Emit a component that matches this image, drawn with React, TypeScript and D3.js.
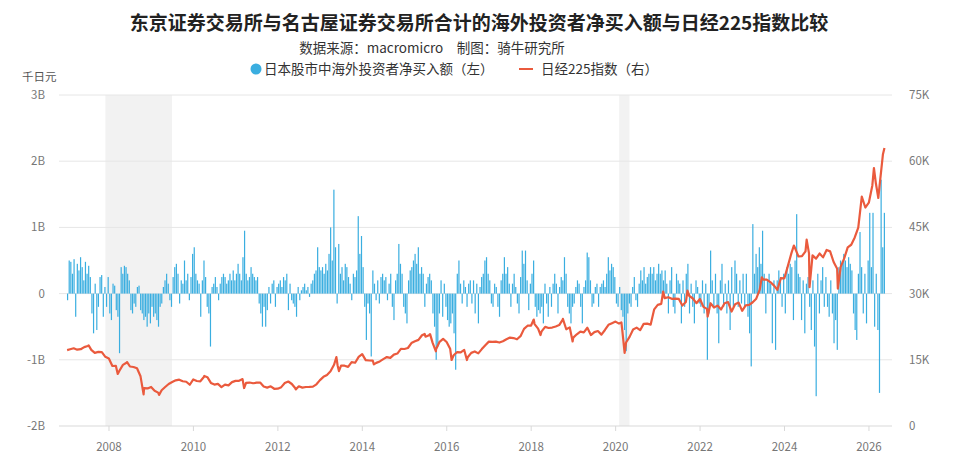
import * as d3 from "d3";
import { useEffect, useRef } from "react";

// weekly-ish foreign net buying, in B (thousand yen), two readings per month
const netBuyStartYear = 2007;
const net2007 = [-0.1, 0.5, 0.48, 0.3, 0.52, -0.35, 0.45, 0.35, 0.55, 0.4, 0.2, 0.48, 0.3, 0.42, 0.25, -0.3, -0.6, 0.15, -0.55, -0.2, 0.25, 0.28, -0.35, 0.1, -0.2, 0.25];
const net2008 = [-0.3, -0.4, 0.15, 0.12, -0.25, -0.35, -0.9, 0.4, 0.3, 0.42, 0.4, 0.3, 0.2, -0.25, -0.3, -0.15, -0.2, 0.1, 0.12, -0.25, -0.3, -0.4, -0.35, -0.5, -0.3, -0.45];
const net2009 = [-0.2, -0.35, -0.3, -0.4, -0.5, -0.2, -0.15, 0.1, 0.2, 0.3, 0.15, -0.1, -0.2, 0.25, 0.4, 0.45, 0.3, -0.15, 0.2, 0.15, 0.5, 0.2, 0.3, -0.1, 0.25, 0.6];
const net2010 = [0.7, 0.3, 0.2, 0.15, -0.35, 0.2, 0.5, 0.25, -0.2, -0.3, -0.8, 0.1, 0.15, 0.25, 0.1, -0.1, 0.15, 0.25, 0.3, 0.25, 0.15, 0.2, 0.3, 0.2, 0.35, 0.2];
const net2011 = [0.3, 0.45, 0.3, 0.2, 0.55, 0.95, 0.3, 0.2, 0.25, 0.4, 0.3, 0.25, 0.2, 0.25, -0.15, -0.3, -0.5, -0.2, -0.5, -0.25, 0.1, -0.15, 0.15, 0.2, -0.2, 0.1];
const net2012 = [0.15, 0.2, 0.1, 0.25, 0.2, 0.3, -0.25, 0.15, -0.1, -0.15, -0.2, -0.35, 0.1, -0.1, 0.05, 0.1, 0.15, 0.05, 0.1, -0.05, 0.15, 0.2, 0.3, 0.35, 0.7, 0.4];
const net2013 = [0.35, 0.4, 0.3, 0.45, 0.35, 0.6, 1.0, 0.5, 1.57, 0.7, -0.15, 0.75, 0.3, 0.4, 0.2, 0.45, 0.4, 0.25, 0.15, -0.1, 0.3, 0.25, 0.35, 1.17, 0.6, 0.87];
const net2014 = [0.4, -0.2, -0.7, -0.15, -0.3, -0.95, 0.35, 0.15, -0.1, 0.2, -0.15, 0.25, 0.3, 0.2, 0.25, -0.1, 0.15, 0.3, -0.2, -0.4, 0.2, 0.3, 0.75, 0.45, 0.3, -0.2];
const net2015 = [-0.3, -0.45, 0.2, 0.35, 0.4, 0.5, 0.6, 0.45, 0.7, 0.3, 0.4, 0.3, -0.2, 0.15, 0.25, 0.3, 0.2, -0.3, -0.5, -1.0, -0.8, -0.3, 0.2, -0.35, 0.15, -0.2];
const net2016 = [-0.4, -0.5, -0.45, -0.3, -0.6, -1.15, 0.3, 0.5, 0.15, -0.15, 0.2, 0.1, -0.2, 0.15, 0.2, -0.15, 0.2, -0.3, 0.15, -0.45, 0.1, 0.25, 0.3, 0.5, 0.55, 0.3];
const net2017 = [0.2, -0.15, -0.2, 0.15, 0.1, -0.2, -0.35, 0.2, 0.3, 0.55, 0.3, 0.4, 0.15, -0.2, 0.15, 0.3, 0.1, -0.15, -0.3, 0.25, 0.65, 0.45, 0.65, 0.2, -0.25, 0.15];
const net2018 = [0.3, 0.5, -0.2, -0.35, -0.25, -0.3, -0.2, -0.45, 0.15, -0.15, -0.35, 0.1, -0.2, 0.15, 0.3, 0.15, -0.3, 0.1, 0.25, 0.2, 0.55, 0.3, -0.2, -0.3, -0.45, -0.2];
const net2019 = [-0.15, 0.1, 0.2, 0.15, -0.2, -0.45, 0.1, 0.2, 0.62, 0.55, 0.2, -0.2, -0.15, 0.1, 0.15, -0.2, 0.1, 0.15, 0.2, 0.1, 0.3, 0.55, 0.35, 0.45, 0.4, 0.25];
const net2020 = [-0.15, -0.2, 0.1, -0.25, -0.35, -0.55, -0.87, -0.3, -0.15, -0.2, 0.1, 0.25, -0.1, -0.2, 0.15, 0.35, 0.2, 0.4, 0.15, 0.25, 0.3, 0.4, 0.3, 0.4, 0.2, 0.3];
const net2021 = [0.45, 0.3, 0.35, 0.2, 0.35, 0.15, -0.3, 0.2, 0.4, -0.2, -0.3, 0.3, 0.2, 0.15, -0.45, 0.2, -0.2, 0.3, 0.45, -0.3, 0.15, -0.2, -0.45, 0.2, 0.1, -0.15];
const net2022 = [-0.2, 0.2, -0.3, 0.15, -1.0, -0.3, 0.65, 0.2, -0.2, 0.3, -0.3, -0.75, 0.2, 0.45, -0.2, 0.15, -0.3, 0.2, -0.55, 0.4, -0.2, 0.5, 0.3, -0.2, 0.2, -0.15];
const net2023 = [0.3, -0.2, 0.3, -0.35, -0.6, -1.1, 1.05, 0.3, 0.6, 0.4, 0.7, 0.45, 0.95, 0.3, -0.3, 0.2, 0.3, 0.15, -0.75, 0.2, -0.85, 0.2, 0.35, 0.25, -0.2, 0.3];
const net2024 = [-0.3, 0.4, 0.3, 0.45, 0.4, -0.4, 0.5, 1.2, 0.3, 0.25, -0.4, 0.2, -0.6, 0.15, 0.25, -0.2, -0.55, 0.2, -0.8, -1.55, 0.3, -0.3, 0.2, 0.4, -0.2, 0.25];
const net2025 = [-0.2, -0.35, 0.2, -0.3, -0.75, -0.4, -0.85, 0.4, 0.5, 0.45, 0.6, 0.5, 0.4, 0.55, 0.45, 0.35, -0.3, -0.55, -0.7, 0.3, 0.93, 0.4, -0.3, 0.3, -0.45, 0.5];
const net2026 = [1.22, 0.4, 1.22, -0.5, 0.3, -0.55, -1.5, 1.72, 0.7, 1.22];
const netBuyByYear = [net2007, net2008, net2009, net2010, net2011, net2012, net2013, net2014, net2015, net2016, net2017, net2018, net2019, net2020, net2021, net2022, net2023, net2024, net2025, net2026];

// Nikkei 225 month-end closes
const nikkeiStartYear = 2007;
const nk2007 = [17383, 17604, 17288, 17400, 17875, 18138, 17248, 16569, 16785, 16737, 15680, 15307];
const nk2008 = [13592, 13603, 12525, 13849, 14338, 13481, 13376, 13072, 11259, 8576, 8512, 8859];
const nk2009 = [7994, 7568, 8109, 8828, 9522, 9958, 10356, 10492, 10133, 10034, 9345, 10546];
const nk2010 = [10198, 10126, 11089, 11057, 9768, 9382, 9537, 8824, 9369, 9202, 9937, 10228];
const nk2011 = [10237, 10624, 9755, 9849, 9693, 9816, 9833, 8955, 8700, 8988, 8434, 8455];
const nk2012 = [8802, 9723, 10083, 9520, 8542, 9006, 8695, 8839, 8870, 8928, 9446, 10395];
const nk2013 = [11138, 11559, 12397, 13860, 13774, 13677, 13668, 13389, 14455, 14327, 15662, 16291];
const nk2014 = [14915, 14841, 14828, 14304, 14632, 15162, 15621, 15425, 16174, 16414, 17460, 17451];
const nk2015 = [17674, 18798, 19207, 19520, 20563, 20236, 20585, 18890, 17388, 19083, 19747, 19034];
const nk2016 = [17518, 16027, 16759, 16666, 17235, 15576, 16569, 16887, 16450, 17425, 18308, 19114];
const nk2017 = [19041, 19119, 18909, 19197, 19651, 20033, 19925, 19646, 20356, 22012, 22725, 22765];
const nk2018 = [23098, 22068, 21454, 22468, 22202, 22305, 22554, 22865, 24120, 21920, 22351, 20015];
const nk2019 = [20773, 21385, 21206, 22259, 20601, 21276, 21521, 20704, 21756, 22927, 23294, 23657];
const nk2020 = [23205, 21143, 18917, 20194, 21878, 22288, 21710, 23140, 23185, 22977, 26434, 27444];
const nk2021 = [27663, 28966, 29179, 28813, 28860, 28792, 27284, 28090, 29453, 28893, 27822, 28792];
const nk2022 = [27002, 26527, 27821, 26848, 27280, 26393, 27802, 28092, 25937, 27587, 27969, 26095];
const nk2023 = [27327, 27446, 28041, 28856, 30888, 33189, 33172, 32619, 31858, 30859, 33487, 33464];
const nk2024 = [36287, 39166, 40369, 38406, 38488, 39583, 39102, 38648, 37920, 39081, 38208, 39895];
const nk2025 = [39572, 37156, 35618, 36045, 37965, 40487, 41070, 42718, 44933, 52000, 49500, 50600];
const nk2026 = [54500, 55000, 54000, 61500];
const nikkeiByYear = [nk2007, nk2008, nk2009, nk2010, nk2011, nk2012, nk2013, nk2014, nk2015, nk2016, nk2017, nk2018, nk2019, nk2020, nk2021, nk2022, nk2023, nk2024, nk2025, nk2026];

// intra-month highs / lows visible on the line
const nikkeiExtremes: [string, number][] = [
  ["2007-01-04", 17200], ["2007-07-09", 18262], ["2008-03-17", 11787], ["2008-06-06", 14489],
  ["2008-10-27", 7163], ["2009-03-10", 7054], ["2010-04-05", 11339], ["2011-03-15", 8605],
  ["2012-06-04", 8295], ["2013-05-22", 15627], ["2013-06-13", 12445], ["2014-04-11", 13960],
  ["2015-06-24", 20868], ["2015-08-10", 20808], ["2015-09-29", 16930], ["2016-02-12", 14952],
  ["2016-06-24", 14952], ["2018-01-23", 24124], ["2018-03-23", 20617], ["2018-10-02", 24270],
  ["2018-12-25", 19155], ["2020-02-20", 23479], ["2020-03-19", 16552], ["2021-02-16", 30468],
  ["2021-09-14", 30670], ["2022-03-08", 24790], ["2023-06-19", 33706], ["2024-03-22", 40888],
  ["2024-07-11", 42224], ["2024-08-05", 31458], ["2025-04-07", 31136], ["2026-02-13", 58460],
  ["2026-03-23", 51660], ["2026-05-15", 63000],
];

const recessions: [string, string][] = [["2007-12-01", "2009-06-30"], ["2020-02-01", "2020-04-30"]];

const leftTicks = [-2, -1, 0, 1, 2, 3];
const leftTickLabels = ["-2B", "-1B", "0", "1B", "2B", "3B"];
const rightTickLabels = ["0", "15K", "30K", "45K", "60K", "75K"];
const rightTicks = [0, 15000, 30000, 45000, 60000, 75000];
const yearTicks = [2008, 2010, 2012, 2014, 2016, 2018, 2020, 2022, 2024, 2026];

const TITLE = "东京证券交易所与名古屋证券交易所合计的海外投资者净买入额与日经225指数比较";
const SUBTITLE = "数据来源：macromicro　制图：骑牛研究所";
const LEGEND_BARS = "日本股市中海外投资者净买入额（左）";
const LEGEND_LINE = "日经225指数（右）";

function decYear(s: string) {
  const d = new Date(s + "T00:00:00Z");
  const y = d.getUTCFullYear();
  const a = Date.UTC(y, 0, 1);
  const b = Date.UTC(y + 1, 0, 1);
  return y + (d.getTime() - a) / (b - a);
}

export default function App() {
  const ref = useRef<SVGSVGElement | null>(null);

  useEffect(() => {
    const el = ref.current;
    if (!el) return;
    document.body.style.margin = "0";

    const svg = d3.select(el);
    svg.selectAll("*").remove();

    const W = 960;
    const H = 474;
    const font = "'Noto Sans CJK SC', 'Noto Sans', sans-serif";
    const muted = "#777";
    const gridColor = "#e6e6e6";

    const x = d3.scaleLinear().domain([2006.816, 2026.546]).range([59, 892]);
    const yL = d3.scaleLinear().domain([-2, 3]).range([426, 95]);
    const yR = d3.scaleLinear().domain([0, 75000]).range([426, 95]);

    const bars = netBuyByYear.flatMap((arr, yi) =>
      arr.map((v, i) => ({ t: netBuyStartYear + yi + (i + 0.5) / 26, v })),
    );
    const monthly = nikkeiByYear.flatMap((arr, yi) =>
      arr.map((v, m) => ({ t: nikkeiStartYear + yi + (m + 1) / 12 - 0.003, v })),
    );
    const line = monthly
      .concat(nikkeiExtremes.map(([d, v]) => ({ t: decYear(d), v })))
      .sort((a, b) => a.t - b.t);

    svg.attr("viewBox", `0 0 ${W} ${H}`).attr("width", W).attr("height", H);
    svg.append("rect").attr("width", W).attr("height", H).attr("fill", "#fff");

    // recession shading
    svg
      .append("g")
      .selectAll("rect")
      .data(recessions)
      .join("rect")
      .attr("x", (d) => x(decYear(d[0])))
      .attr("width", (d) => x(decYear(d[1])) - x(decYear(d[0])))
      .attr("y", yL(3))
      .attr("height", yL(-2) - yL(3))
      .attr("fill", "#f2f2f2");

    // grid
    svg
      .append("g")
      .selectAll("line")
      .data(leftTicks)
      .join("line")
      .attr("x1", x.range()[0])
      .attr("x2", x.range()[1])
      .attr("y1", (d) => yL(d))
      .attr("y2", (d) => yL(d))
      .attr("stroke", (d) => (d === -2 ? "#d9d9d9" : gridColor))
      .attr("stroke-width", 1);

    // year ticks
    svg
      .append("g")
      .selectAll("line")
      .data(yearTicks)
      .join("line")
      .attr("x1", (d) => x(d))
      .attr("x2", (d) => x(d))
      .attr("y1", yL(-2))
      .attr("y2", yL(-2) + 5)
      .attr("stroke", "#d9d9d9");

    svg
      .append("g")
      .selectAll("text")
      .data(yearTicks)
      .join("text")
      .attr("x", (d) => x(d))
      .attr("y", 451)
      .attr("text-anchor", "middle")
      .attr("font-family", font)
      .attr("font-size", 11.5)
      .attr("fill", muted)
      .text((d) => String(d));

    // left axis labels
    svg
      .append("g")
      .selectAll("text")
      .data(leftTicks)
      .join("text")
      .attr("x", 45)
      .attr("y", (d) => yL(d) + 4)
      .attr("text-anchor", "end")
      .attr("font-family", font)
      .attr("font-size", 11.5)
      .attr("fill", muted)
      .text((_, i) => leftTickLabels[i]);

    svg
      .append("g")
      .selectAll("text")
      .data(rightTicks)
      .join("text")
      .attr("x", 909)
      .attr("y", (d) => yR(d) + 4)
      .attr("text-anchor", "start")
      .attr("font-family", font)
      .attr("font-size", 11.5)
      .attr("fill", muted)
      .text((_, i) => rightTickLabels[i]);

    svg
      .append("text")
      .attr("x", 22)
      .attr("y", 81)
      .attr("font-family", font)
      .attr("font-size", 11.5)
      .attr("fill", "#555")
      .text("千日元");

    // bars
    svg
      .append("g")
      .selectAll("rect")
      .data(bars)
      .join("rect")
      .attr("x", (d) => x(d.t) - 0.6)
      .attr("width", 1.2)
      .attr("y", (d) => Math.min(yL(d.v), yL(0)))
      .attr("height", (d) => Math.abs(yL(d.v) - yL(0)))
      .attr("fill", "#3aaee0");

    // Nikkei line
    svg
      .append("path")
      .datum(line)
      .attr("fill", "none")
      .attr("stroke", "#ea5a3d")
      .attr("stroke-width", 2.2)
      .attr("stroke-linejoin", "round")
      .attr(
        "d",
        d3
          .line<{ t: number; v: number }>()
          .x((d) => x(d.t))
          .y((d) => yR(d.v)),
      );

    // title block
    svg
      .append("text")
      .attr("x", 479)
      .attr("y", 30)
      .attr("text-anchor", "middle")
      .attr("font-family", font)
      .attr("font-weight", 700)
      .attr("font-size", 19)
      .attr("fill", "#222")
      .text(TITLE);

    svg
      .append("text")
      .attr("x", 432)
      .attr("y", 53)
      .attr("text-anchor", "middle")
      .attr("font-family", font)
      .attr("font-size", 13.5)
      .attr("fill", "#333")
      .text(SUBTITLE);

    const lg = svg.append("g").attr("font-family", font).attr("font-size", 13.5).attr("fill", "#333");
    lg.append("circle").attr("cx", 256).attr("cy", 69).attr("r", 5.5).attr("fill", "#3aaee0");
    lg.append("text").attr("x", 264).attr("y", 74).text(LEGEND_BARS);
    lg.append("line")
      .attr("x1", 519)
      .attr("x2", 533)
      .attr("y1", 69)
      .attr("y2", 69)
      .attr("stroke", "#ea5a3d")
      .attr("stroke-width", 2);
    lg.append("text").attr("x", 541).attr("y", 74).text(LEGEND_LINE);
  }, []);

  return <svg ref={ref} style={{ display: "block" }} />;
}
